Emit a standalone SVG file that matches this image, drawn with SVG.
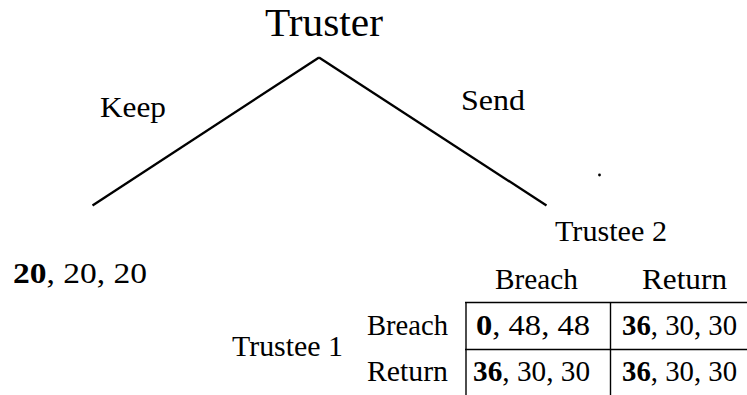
<svg xmlns="http://www.w3.org/2000/svg" width="747" height="395" viewBox="0 0 747 395">
<defs>
<style>
.edge{stroke:#000;stroke-width:2.3;fill:none;stroke-linecap:butt}
.grid{stroke:#000;stroke-width:1.4;fill:none}
</style>
</defs>
<rect width="747" height="395" fill="#fff"/>
<g id="connectors">
<line class="edge" x1="92.5" y1="205.5" x2="319" y2="57.5"/>
<line class="edge" x1="319" y1="57.5" x2="546.5" y2="205.5"/>
<text font-family="Liberation Serif" font-size="30" x="100" y="117" textLength="66" lengthAdjust="spacingAndGlyphs">Keep</text>
<text font-family="Liberation Serif" font-size="30" x="461" y="110" textLength="64" lengthAdjust="spacingAndGlyphs">Send</text>
</g>
<g id="truster">
<text font-family="Liberation Serif" font-size="40" x="265" y="36" textLength="118" lengthAdjust="spacingAndGlyphs">Truster</text>
</g>
<g id="keep-payoff">
<text font-family="Liberation Serif" font-size="30" x="13" y="283" textLength="134" lengthAdjust="spacingAndGlyphs"><tspan font-weight="bold">20</tspan>, 20, 20</text>
</g>
<g id="trustee2">
<circle cx="599.5" cy="175" r="1.4" fill="#000"/>
<text font-family="Liberation Serif" font-size="30" x="555" y="241" textLength="112" lengthAdjust="spacingAndGlyphs">Trustee 2</text>
</g>
<g id="payoff-table">
<text font-family="Liberation Serif" font-size="30" x="232" y="356" textLength="111" lengthAdjust="spacingAndGlyphs">Trustee 1</text>
<text font-family="Liberation Serif" font-size="30" x="495" y="289" textLength="83" lengthAdjust="spacingAndGlyphs">Breach</text>
<text font-family="Liberation Serif" font-size="30" x="642" y="289" textLength="85" lengthAdjust="spacingAndGlyphs">Return</text>
<text font-family="Liberation Serif" font-size="30" x="367" y="335" textLength="81" lengthAdjust="spacingAndGlyphs">Breach</text>
<text font-family="Liberation Serif" font-size="30" x="367" y="381" textLength="81" lengthAdjust="spacingAndGlyphs">Return</text>
<line class="grid" x1="465" y1="302.5" x2="747" y2="302.5"/>
<line class="grid" x1="465" y1="349.5" x2="747" y2="349.5"/>
<line class="grid" x1="466" y1="302" x2="466" y2="395"/>
<line class="grid" x1="610.5" y1="302" x2="610.5" y2="395"/>
<text font-family="Liberation Serif" font-size="30" x="476" y="335" textLength="114" lengthAdjust="spacingAndGlyphs"><tspan font-weight="bold">0</tspan>, 48, 48</text>
<text font-family="Liberation Serif" font-size="30" x="622" y="335" textLength="115" lengthAdjust="spacingAndGlyphs"><tspan font-weight="bold">36</tspan>, 30, 30</text>
<text font-family="Liberation Serif" font-size="30" x="473" y="381" textLength="117" lengthAdjust="spacingAndGlyphs"><tspan font-weight="bold">36</tspan>, 30, 30</text>
<text font-family="Liberation Serif" font-size="30" x="622" y="381" textLength="115" lengthAdjust="spacingAndGlyphs"><tspan font-weight="bold">36</tspan>, 30, 30</text>
</g>
</svg>
